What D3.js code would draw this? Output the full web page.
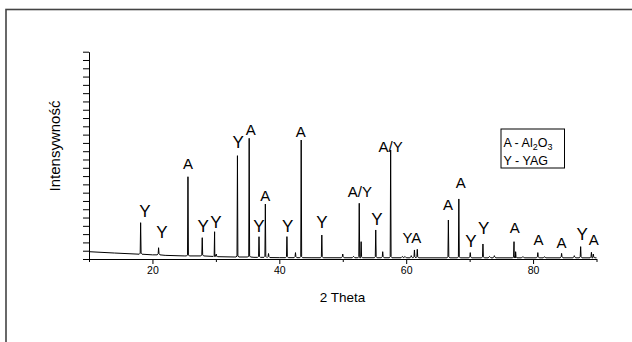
<!DOCTYPE html>
<html>
<head>
<meta charset="utf-8">
<script src="https://cdn.jsdelivr.net/npm/d3@7"></script>
<style>
  html, body { margin: 0; padding: 0; background: #fff; }
  svg { display: block; }
  text { font-family: "Liberation Sans", Arial, sans-serif; fill: #000; }
</style>
</head>
<body>
<svg id="chart" width="632" height="342"></svg>
<script>
// ---- data ----
// background points [2theta, intensity]
const background = [
  [10, 88], [14, 72], [18, 58], [20, 50], [22, 44], [25, 37], [28, 31], [30, 28],
  [33, 24], [36, 20], [38, 17], [40, 16], [45, 15], [50, 15], [60, 14], [70, 14], [80, 14], [90, 14]
];
// peaks [2theta, peak intensity]
const peaks = [
  [18.14, 438], [20.97, 136], [25.6, 992], [27.85, 257], [29.8, 329], [30.05, 60],
  [33.4, 1246], [35.25, 1456], [36.8, 269], [37.8, 663], [38.3, 66],
  [41.2, 270], [42.55, 77], [43.45, 1435], [46.7, 289], [50.0, 60], [51.7, 30],
  [52.6, 672], [52.9, 209], [55.2, 350], [56.3, 88], [57.55, 1315],
  [59.4, 30], [59.8, 32], [60.8, 40], [61.3, 109], [61.75, 117],
  [66.65, 470], [68.3, 724], [70.1, 77], [72.1, 181], [73.15, 30], [73.9, 40],
  [77.0, 209], [77.25, 88], [78.4, 25], [80.75, 77], [81.8, 25], [84.5, 68],
  [86.5, 40], [87.5, 149], [89.2, 81], [89.5, 60]
];
// peak labels [text, 2theta (centre), intensity (baseline)]
const peakLabels = [
  ["Y", 18.8, 510], ["Y", 21.5, 250], ["A", 25.6, 1082], ["Y", 28.0, 329], ["Y", 30.0, 370],
  ["Y", 33.5, 1335], ["A", 35.5, 1495], ["Y", 36.8, 322], ["A", 37.8, 696],
  ["Y", 41.3, 329], ["A", 43.4, 1475], ["Y", 46.7, 370], ["A/Y", 52.7, 751],
  ["Y", 55.4, 410], ["A/Y", 57.55, 1287], ["YA", 60.9, 197], ["A", 66.6, 591],
  ["A", 68.6, 860], ["Y", 70.2, 148], ["Y", 72.2, 298], ["A", 77.1, 317],
  ["A", 80.85, 169], ["A", 84.5, 129], ["Y", 87.75, 229], ["A", 89.55, 169]
];
const xMajorTicks = [20, 40, 60, 80];
const xMinorTicks = [10, 30, 50, 70, 90];
const xTitle = "2 Theta";
const yTitle = "Intensywność";

// ---- layout ----
const svg = d3.select("#chart");
const x = d3.scaleLinear().domain([10, 90]).range([89, 596.5]);
const y = d3.scaleLinear().domain([0, 2500]).range([259, 51.7]);

// outer frame
svg.append("rect")
  .attr("x", 6).attr("y", 9.5).attr("width", 700).attr("height", 400)
  .attr("fill", "none").attr("stroke", "#444").attr("stroke-width", 1.6);

// build trace: background + peaks (each peak: foot, top, foot)
function baseAt(t) {
  let b = background[0][1];
  for (const p of background) if (p[0] <= t) b = p[1];
  return b;
}
const pts = background.map(d => [d[0], d[1]]);
peaks.forEach(([t, h]) => {
  const b = baseAt(t);
  pts.push([t - 0.22, b], [t - 0.07, b + 12], [t, h], [t + 0.07, b + 12], [t + 0.22, b]);
});
pts.sort((a, b) => a[0] - b[0]);
const trace = pts.filter(p => {
  const isBg = background.some(b => b[0] === p[0] && b[1] === p[1]);
  if (!isBg) return true;
  return !peaks.some(([t]) => Math.abs(p[0] - t) < 0.25);
});

svg.append("path")
  .datum(trace)
  .attr("fill", "none")
  .attr("stroke", "#000")
  .attr("stroke-width", 1)
  .attr("stroke-linejoin", "round")
  .attr("d", d3.line().x(d => x(d[0])).y(d => y(d[1])));

// y axis
const yAxis = d3.axisLeft(y).tickValues(d3.range(0, 2501, 100)).tickSize(6).tickSizeOuter(0).tickFormat("");
const gy = svg.append("g").attr("transform", `translate(${x(10)},0)`).call(yAxis);
gy.selectAll("path, line").attr("stroke", "#000").attr("stroke-width", 1);

// x axis
const xAxis = d3.axisBottom(x).tickValues(xMajorTicks).tickSize(5).tickSizeOuter(0).tickPadding(3).tickFormat(d3.format("d"));
const gx = svg.append("g").attr("transform", `translate(0,${y(0)})`).call(xAxis);
gx.selectAll("path, line").attr("stroke", "#000").attr("stroke-width", 1);
gx.selectAll("text").attr("font-size", 10.5).attr("font-family", "Liberation Sans, Arial, sans-serif");
const xMinor = d3.axisBottom(x).tickValues(xMinorTicks).tickSize(3).tickSizeOuter(0).tickFormat("");
const gxm = svg.append("g").attr("transform", `translate(0,${y(0)})`).call(xMinor);
gxm.select("path").remove();
gxm.selectAll("line").attr("stroke", "#000");

// axis titles
svg.append("text")
  .attr("x", 342.5).attr("y", 301.5)
  .attr("text-anchor", "middle").attr("font-size", 13.5)
  .text(xTitle);
svg.append("text")
  .attr("transform", "translate(60,146) rotate(-90)")
  .attr("text-anchor", "middle").attr("font-size", 15)
  .text(yTitle);

// peak labels
svg.append("g").selectAll("text")
  .data(peakLabels)
  .join("text")
  .attr("x", d => x(d[1]))
  .attr("y", d => y(d[2]))
  .attr("text-anchor", "middle")
  .attr("font-size", d => d[0] === "Y" ? 17 : 15)
  .text(d => d[0]);

// legend
const lg = svg.append("g");
lg.append("rect").attr("x", 501).attr("y", 129).attr("width", 63.5).attr("height", 39)
  .attr("fill", "#fff").attr("stroke", "#000").attr("stroke-width", 1);
const t1 = lg.append("text").attr("x", 503.5).attr("y", 147.3).attr("font-size", 12.5);
t1.append("tspan").text("A - Al");
t1.append("tspan").attr("font-size", 9).attr("dy", 3).text("2");
t1.append("tspan").attr("dy", -3).text("O");
t1.append("tspan").attr("font-size", 9).attr("dy", 3).text("3");
lg.append("text").attr("x", 503.5).attr("y", 165).attr("font-size", 12.5).text("Y - YAG");
</script>
</body>
</html>
